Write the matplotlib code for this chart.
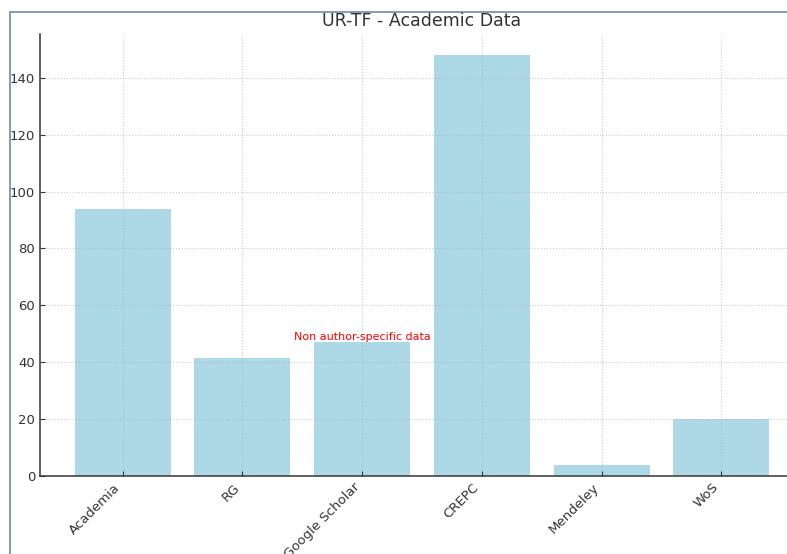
import matplotlib.pyplot as plt
from matplotlib.patches import Rectangle

# data
sources = ['Academia', 'RG', 'Google Scholar', 'CREPC', 'Mendeley', 'WoS']
counts = [94, 41.5, 47, 148, 4, 20]
note = 'Non author-specific data'
note_idx = 2

fig = plt.figure(figsize=(7.87, 5.54), dpi=100)
W, H = 787, 554
# axes runs past the right edge, like the cropped original
ax = fig.add_axes([40 / W, (H - 476) / H, (804 - 40) / W, (476 - 34) / H])

ax.bar(sources, counts, color='lightblue', width=0.8, zorder=1)
ax.text(note_idx, counts[note_idx], note, color='red', fontsize=8,
        ha='center', va='bottom')

ax.set_title('UR-TF - Academic Data', fontsize=12.5, color='#333333', pad=6)
ax.grid(True, linestyle=':', color='#aaaaaa', linewidth=0.8, alpha=0.6, zorder=2)
ax.set_axisbelow(False)
for s in ['top', 'right']:
    ax.spines[s].set_visible(False)
for s in ['left', 'bottom']:
    ax.spines[s].set_color('#444444')
    ax.spines[s].set_linewidth(1.2)
ax.tick_params(direction='in', colors='#333333', labelsize=9.5)
plt.setp(ax.get_xticklabels(), rotation=45, ha='right')

# screenshot frame
fig.add_artist(Rectangle((10 / W, -0.1), 1.2, (H - 12) / H + 0.1,
                         transform=fig.transFigure, fill=False,
                         edgecolor='#6f8aa6', linewidth=1.2))

fig.savefig('out.png', dpi=100)
